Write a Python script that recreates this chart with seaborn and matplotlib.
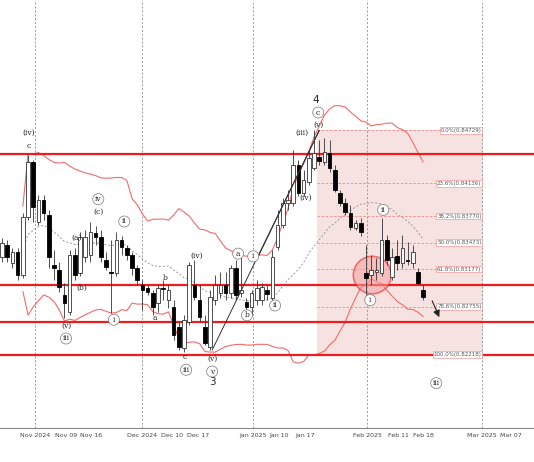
import numpy as np
import pandas as pd
import matplotlib
matplotlib.use("Agg")
import matplotlib.pyplot as plt
import seaborn as sns
from matplotlib.patches import Ellipse, Rectangle

opens = [.8331,.8345,.8324,.8337,.8311,.8376,.8438,.8370,.8395,.8378,.8322,.8317,.8289,.8270,.8333,.8313,.8331,.8333,.8358,.8354,
         .8328,.8314,.8313,.8350,.8341,.8333,.8319,.8300,.8296,.8291,.8280,.8296,.8283,.8275,.8253,.8229,.8258,.8300,.8283,.8253,
         .8230,.8283,.8291,.8300,.8291,.8319,.8291,.8281,.8275,.8283,.8283,.8294,.8285,.8342,.8367,.8392,.8392,.8434,.8403,.8415,
         .8431,.8443,.8438,.8448,.8429,.8403,.8392,.8380,.8364,.8369,.8313,.8311,.8314,.8313,.8350,.8309,.8332,.8324,.8328,.8324,
         .8314,.8294]
closes = [.8347,.8331,.8337,.8311,.8376,.8438,.8387,.8395,.8380,.8331,.8319,.8298,.8280,.8333,.8311,.8354,.8354,.8359,.8354,.8331,
          .8320,.8313,.8350,.8342,.8333,.8319,.8305,.8294,.8292,.8275,.8296,.8295,.8294,.8244,.8230,.8261,.8322,.8286,.8264,.8235,
          .8286,.8300,.8300,.8291,.8319,.8289,.8294,.8275,.8291,.8296,.8298,.8290,.8331,.8367,.8392,.8395,.8434,.8403,.8417,.8442,
          .8448,.8439,.8449,.8431,.8406,.8392,.8382,.8365,.8369,.8359,.8308,.8317,.8317,.8350,.8328,.8331,.8324,.8341,.8327,.8337,
          .8302,.8286]
highs = [.8352,.8350,.8341,.8341,.8380,.8445,.8440,.8401,.8401,.8384,.8339,.8326,.8302,.8339,.8341,.8359,.8361,.8370,.8366,.8361,
         .8337,.8350,.8359,.8355,.8345,.8337,.8322,.8305,.8300,.8294,.8300,.8305,.8300,.8283,.8258,.8266,.8326,.8328,.8300,.8266,
         .8294,.8311,.8314,.8314,.8322,.8328,.8333,.8285,.8294,.8305,.8302,.8300,.8339,.8384,.8397,.8406,.8451,.8440,.8429,.8451,
         .8473,.8462,.8464,.8462,.8434,.8406,.8397,.8389,.8373,.8375,.8345,.8333,.8330,.8375,.8356,.8341,.8350,.8356,.8348,.8345,
         .8319,.8300]
lows = [.8326,.8326,.8319,.8305,.8308,.8373,.8370,.8367,.8373,.8319,.8305,.8292,.8263,.8266,.8305,.8310,.8326,.8326,.8345,.8326,
        .8317,.8268,.8310,.8333,.8328,.8311,.8300,.8272,.8289,.8266,.8270,.8283,.8274,.8238,.8227,.8225,.8255,.8283,.8258,.8233,
        .8227,.8277,.8285,.8283,.8285,.8283,.8287,.8272,.8266,.8277,.8277,.8283,.8283,.8339,.8364,.8384,.8388,.8399,.8399,.8412,
        .8429,.8434,.8434,.8426,.8404,.8388,.8378,.8361,.8361,.8355,.8289,.8300,.8305,.8310,.8322,.8305,.8317,.8319,.8322,.8319,
        .8300,.8283]

tick_labels = ["Nov 2024","Nov 09","Nov 16","Dec 2024","Dec 10","Dec 17","Jan 2025","Jan 10","Jan 17",
               "Feb 2025","Feb 11","Feb 18","Mar 2025","Mar 07"]
tick_pos = [6.3,12.3,17.1,26.9,32.7,37.7,48.3,53.3,58.3,70.2,76.2,81,92.3,97.9]
month_pos = [6.3,26.9,48.3,70.2,92.3]

fib_pct = ["0.0%","23.6%","38.2%","50.0%","61.8%","78.6%","100.0%"]
fib_vals = [0.84729,0.84136,0.83770,0.83473,0.83177,0.82755,0.82218]
red_levels = [0.84471,0.82999,0.82588,0.82218]

wave_labels = [("(iv)",5.2,.8470),("c",5.2,.8455),("(v)",12.3,.8254),("iii",12.3,.8240),
               ("(a)",14.4,.8353),("(b)",15.4,.8297),("iv",18.5,.8396),("(c)",18.5,.8382),
               ("ii",23.5,.8371),("i",21.5,.8261),("b",31.3,.8308),("a",29.4,.8263),
               ("(iv)",37.5,.8333),("c",35.2,.8219),("iii",35.4,.8205),("(v)",40.4,.8217),
               ("v",40.4,.8203),("a",45.4,.8335),("i",48.3,.8332),("b",47.1,.8266),
               ("ii",52.5,.8277),("(iii)",57.7,.8470),("(iv)",58.3,.8397),("(v)",60.8,.8479),
               ("c",60.8,.8493),("ii",73.3,.8384),("i",70.8,.8283),("iii",83.5,.8190)]
circled = {"iii","iv","ii","i","v","a","b","c"}
circled_at = {(5.2,.8455),(29.4,.8263),(31.3,.8308),(35.2,.8219)}

df = pd.DataFrame({"o":opens,"c":closes,"h":highs,"l":lows})
df["i"] = np.arange(len(df))
mid = df["c"].rolling(20, min_periods=5).mean()
sd = df["c"].rolling(20, min_periods=5).std()
df["mid"], df["up"], df["lo"] = mid, mid+2*sd, mid-2*sd

sns.set_style("white")
fig = plt.figure(figsize=(5.34,4.62), dpi=100)
ax = fig.add_axes([0,0.074,1,0.926])
ax.set_xlim(-0.4,102.3)
ax.set_ylim(0.8140,0.8619)

ax.add_patch(Rectangle((60.6,fib_vals[-1]),31.8,fib_vals[0]-fib_vals[-1],color="#f3d0d0",alpha=0.6,lw=0,zorder=0))
for p,v in zip(fib_pct,fib_vals):
    ax.plot([60.6,92.4],[v,v],ls=(0,(3,2)),color="#e88",lw=0.6,zorder=1)
    ax.text(92.2,v,f"{p}({v:.5f})",fontsize=4,ha="right",va="center",color="#555",
            bbox=dict(boxstyle="square,pad=0.15",fc="white",ec="#e99",lw=0.5),zorder=6)
for m in month_pos:
    ax.axvline(m,color="#999",ls=(0,(2,2)),lw=0.7,zorder=1)

sns.lineplot(data=df,x="i",y="up",color="#f26b6b",lw=0.8,ax=ax,zorder=2)
sns.lineplot(data=df,x="i",y="lo",color="#f26b6b",lw=0.8,ax=ax,zorder=2)
sns.lineplot(data=df,x="i",y="mid",color="#999",lw=0.7,ls=(0,(2,2)),ax=ax,zorder=2)

for r in red_levels:
    ax.axhline(r,color="#ee1c1c",lw=1.6,zorder=3)

ax.add_patch(Ellipse((71.2,0.8311),7.3,0.0042,fc="#f4a0a0",ec="#ee1c1c",lw=1.2,alpha=0.55,zorder=3))

ax.vlines(df["i"],df["l"],df["h"],color="#333",lw=0.6,zorder=4)
white = df["c"]>=df["o"]
ax.bar(df["i"][white],(df["c"]-df["o"])[white],bottom=df["o"][white],width=0.7,color="white",edgecolor="#333",lw=0.6,zorder=5)
ax.bar(df["i"][~white],(df["o"]-df["c"])[~white].clip(lower=0.00008),bottom=df["c"][~white],width=0.7,color="black",edgecolor="black",lw=0.6,zorder=5)

ax.plot([40.4,61.0],[.8227,.8473],color="#333",lw=0.7,zorder=5)
ax.plot([49.2,61.0],[.8331,.8473],color="#333",lw=0.7,zorder=5)
ax.annotate("",xy=(84.3,.8261),xytext=(82.5,.8285),arrowprops=dict(arrowstyle="-|>",color="#222",lw=0.8),zorder=6)

for t,x,y in wave_labels:
    circ = t in circled and (x,y) not in circled_at
    kw = dict(boxstyle="circle,pad=0.2",fc="white",ec="#777",lw=0.5) if circ else None
    ax.text(x,y,t,fontsize=5.5,ha="center",va="center",family="DejaVu Serif",bbox=kw,zorder=7)
ax.text(40.4,.8191,"3",fontsize=7.5,ha="center",va="center",zorder=7)
ax.text(60.4,.8507,"4",fontsize=7.5,ha="center",va="center",zorder=7)

ax.set_xticks(tick_pos)
ax.set_xticklabels(tick_labels,fontsize=4.5,color="#444")
ax.set_yticks([])
ax.set_xlabel(""); ax.set_ylabel("")
ax.tick_params(axis="x",length=2,pad=2)
for s in ["top","right","left"]:
    ax.spines[s].set_visible(False)
ax.spines["bottom"].set_color("#888")
fig.savefig("out.png",dpi=100)
